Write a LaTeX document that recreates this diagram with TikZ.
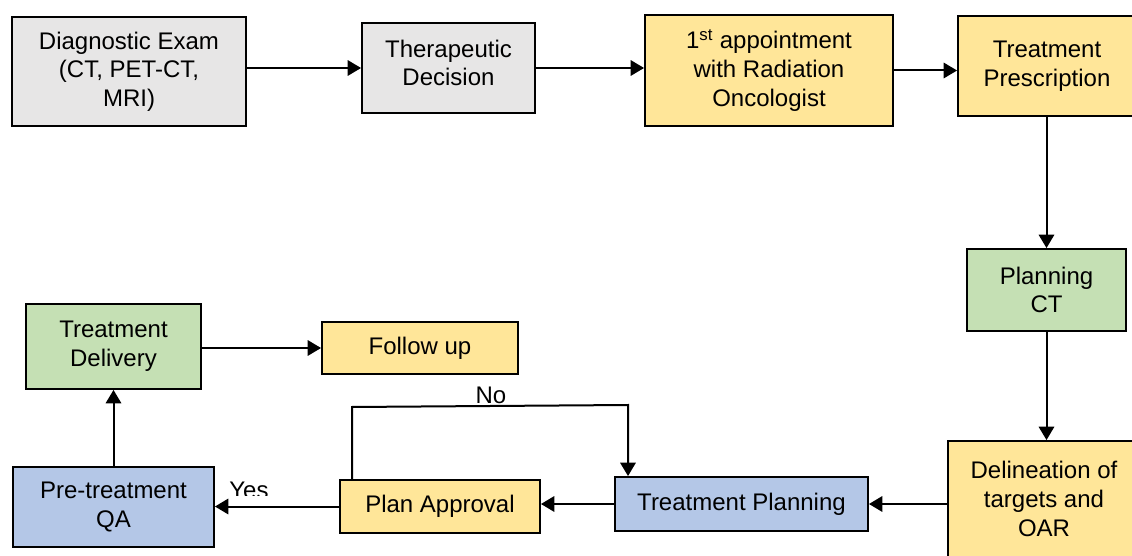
\documentclass[tikz,border=0pt]{standalone}
\usepackage{fontspec}
\setmainfont{Liberation Sans}
\usetikzlibrary{arrows.meta}
\definecolor{boxgray}{HTML}{E7E6E6}
\definecolor{boxyellow}{HTML}{FFE699}
\definecolor{boxgreen}{HTML}{C5E0B4}
\definecolor{boxblue}{HTML}{B4C7E7}
\tikzset{
  stage/.style={draw=black, line width=1.4pt, align=center, inner sep=2pt,
    font=\fontsize{18pt}{21.5pt}\selectfont},
  sz/.style 2 args={minimum width=#1*0.75pt, minimum height=#2*0.75pt},
  flow/.style={line width=1.5pt, -{Triangle[length=10pt,width=11.5pt]}},
  lbl/.style={font=\fontsize{18pt}{21.5pt}\selectfont, inner sep=0pt}
}
\begin{document}
\begin{tikzpicture}[x=0.75pt, y=-0.75pt]
\useasboundingbox (0,0) rectangle (1132,556);

% top row
\node[stage, fill=boxgray, sz={234}{109}] (diag) at (129,71.5)
  {Diagnostic Exam\\(CT, PET-CT,\\MRI)};
\node[stage, fill=boxgray, sz={173}{90}, text depth=8pt] (ther) at (448.5,68)
  {Therapeutic\\Decision};
\node[stage, fill=boxyellow, sz={248}{111}] (appt) at (769,70.5)
  {1\textsuperscript{st} appointment\\with Radiation\\Oncologist};
\node[stage, fill=boxyellow, sz={178}{100}] (presc) at (1047,66)
  {Treatment\\Prescription};

% right column
\node[stage, fill=boxgreen, sz={159}{82}] (pct) at (1046.5,290)
  {Planning\\CT};
\node[stage, fill=boxyellow, sz={192}{116}] (delin) at (1044,499)
  {Delineation of\\targets and\\OAR};

% bottom row
\node[stage, fill=boxblue, sz={253}{54}] (tplan) at (741.5,504)
  {Treatment Planning};
\node[stage, fill=boxyellow, sz={200}{53}] (appr) at (440,506.5)
  {Plan Approval};
\node[stage, fill=boxblue, sz={201}{80}] (qa) at (113.5,507)
  {Pre-treatment\\QA};

% left column
\node[stage, fill=boxgreen, sz={175}{85}] (deliv) at (113.5,346.5)
  {Treatment\\Delivery};
\node[stage, fill=boxyellow, sz={196}{52}] (follow) at (420,348)
  {Follow up};

% connectors
\draw[flow] (diag.east |- ther.west) -- (ther.west);
\draw[flow] (ther.east) -- (ther.east -| appt.west);
\draw[flow] (appt.east) -- (appt.east -| presc.west);
\draw[flow] (presc.south -| pct.north) -- (pct.north);
\draw[flow] (pct.south) -- (pct.south |- delin.north);
\draw[flow] (delin.west |- tplan.east) -- (tplan.east);
\draw[flow] (tplan.west) -- (tplan.west -| appr.east);
\draw[flow] (appr.west) -- (appr.west -| qa.east);
\draw[flow] (qa.north) -- (deliv.south);
\draw[flow] (deliv.east |- follow.west) -- (follow.west);

% rejection loop back to planning
\coordinate (noL) at (352,407);
\coordinate (noR) at (628,405);
\draw[flow] (noL |- appr.north) -- (noL) -- (noR) -- (noR |- tplan.north);

% decision labels (the "Yes" text frame cuts off its lower edge)
\begin{scope}
  \clip (220,470) rectangle (285,495.5);
  \node[lbl, anchor=base] (yes) at (249,498) {Yes};
\end{scope}
\node[lbl] (no) at (491,395) {No};
\end{tikzpicture}
\end{document}
